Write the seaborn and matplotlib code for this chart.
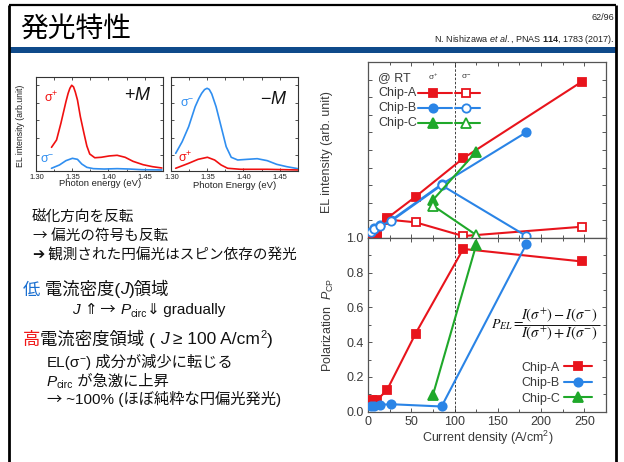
import matplotlib
matplotlib.use("Agg")
import matplotlib.pyplot as plt
import seaborn as sns
from matplotlib.ticker import MultipleLocator, FixedLocator, NullFormatter
from matplotlib.patches import Rectangle
from matplotlib.lines import Line2D

# ---------------- data ----------------
# EL spectra under +M (photon energy in eV, intensity in arb. unit)
pm_energy_sp = [1.321, 1.328, 1.334, 1.341, 1.344, 1.3465, 1.349, 1.3515, 1.354, 1.357,
                1.361, 1.366, 1.370, 1.374, 1.381, 1.390, 1.401, 1.412, 1.423, 1.434,
                1.448, 1.461, 1.474]
pm_el_sp = [0.252, 0.330, 0.507, 0.737, 0.825, 0.880, 0.912, 0.895, 0.840, 0.755,
            0.578, 0.401, 0.266, 0.181, 0.141, 0.146, 0.160, 0.167, 0.146, 0.103,
            0.067, 0.046, 0.032]
pm_energy_sm = [1.321, 1.332, 1.341, 1.350, 1.357, 1.363, 1.370, 1.379, 1.394,
                1.412, 1.429, 1.446, 1.474]
pm_el_sm = [0.029, 0.064, 0.110, 0.135, 0.124, 0.074, 0.039, 0.025, 0.021,
            0.025, 0.021, 0.014, 0.011]

# EL spectra under -M
mm_energy_sm = [1.306, 1.315, 1.324, 1.333, 1.338, 1.342, 1.346, 1.3495, 1.3525, 1.356,
                1.362, 1.369, 1.376, 1.383, 1.392, 1.405, 1.419, 1.433, 1.446, 1.460, 1.476]
mm_el_sm = [0.188, 0.312, 0.472, 0.684, 0.770, 0.826, 0.866, 0.880, 0.868, 0.820,
            0.684, 0.472, 0.259, 0.146, 0.117, 0.124, 0.131, 0.110, 0.071, 0.046, 0.024]
mm_energy_sp = [1.306, 1.324, 1.337, 1.350, 1.360, 1.369, 1.378, 1.396, 1.433, 1.476]
mm_el_sp = [0.029, 0.082, 0.124, 0.146, 0.117, 0.064, 0.029, 0.018, 0.018, 0.011]

# EL intensity (arb. unit) and polarization vs current density (A/cm^2)
density_a = [5, 10, 22, 55, 110, 247]
el_a_sigma_p = [0.010, 0.017, 0.112, 0.235, 0.453, 0.888]
el_a_sigma_m = [0.009, 0.015, 0.105, 0.089, 0.011, 0.064]
pol_a = [0.065, 0.065, 0.125, 0.450, 0.937, 0.865]

density_b = [3, 7, 14, 27, 85, 183]
el_b_sigma_p = [0.036, 0.055, 0.074, 0.102, 0.305, 0.601]
el_b_sigma_m = [0.034, 0.052, 0.070, 0.097, 0.300, 0.011]
pol_b = [0.030, 0.035, 0.040, 0.043, 0.030, 0.965]

density_c = [75, 125]
el_c_sigma_p = [0.216, 0.490]
el_c_sigma_m = [0.184, 0.017]
pol_c = [0.096, 0.960]

chips = ["Chip-A", "Chip-B", "Chip-C"]
x_ticks = [0, 50, 100, 150, 200, 250]
pol_ticks = [0.0, 0.2, 0.4, 0.6, 0.8, 1.0]
spec_ticks = [1.30, 1.35, 1.40, 1.45]

# ---------------- style ----------------
sns.set_style("ticks")
plt.rcParams["font.family"] = ["Liberation Sans", "Noto Sans CJK JP", "DejaVu Sans"]
plt.rcParams["mathtext.fontset"] = "custom"
plt.rcParams["mathtext.rm"] = "Liberation Sans"
plt.rcParams["mathtext.it"] = "Liberation Sans:italic"
plt.rcParams["mathtext.bf"] = "Liberation Sans:bold"
plt.rcParams["mathtext.sf"] = "Liberation Sans"

W, H = 624, 462
fig = plt.figure(figsize=(W / 100, H / 100), dpi=100)
fig.patch.set_facecolor("white")
renderer = fig.canvas.get_renderer()

FAM = ["Liberation Sans", "Noto Sans CJK JP", "DejaVu Sans"]
CJK = ["Noto Sans CJK JP", "DejaVu Sans"]
DJV = ["DejaVu Sans"]
RED = "#e8141c"
BLUE = "#2a84e6"
GREEN = "#1fa82a"
SPEC_RED = "#f01010"
SPEC_BLUE = "#2f8ef0"


def fx(x):
    return x / W


def fy(y):
    return 1 - y / H


def box(l, t, r, b):
    return [fx(l), fy(b), (r - l) / W, (b - t) / H]


# ---------------- slide frame ----------------
frame = fig.add_axes([0, 0, 1, 1], zorder=-5)
frame.set_xlim(0, W)
frame.set_ylim(H, 0)
frame.axis("off")
frame.plot([9, 9], [H + 5, 5], color="black", lw=2.0, solid_capstyle="butt")
frame.plot([9, 616], [5, 5], color="black", lw=1.6, solid_capstyle="butt")
frame.plot([616, 616], [5, H + 5], color="black", lw=2.0, solid_capstyle="butt")
frame.add_patch(Rectangle((9, 47), 607, 6, color="#0f4a8a", lw=0))

fig.text(fx(20), fy(29), "発光特性", fontsize=20, family=["Noto Sans CJK JP"],
         va="center", ha="left", color="black")
fig.text(fx(614), fy(17), "62/96", fontsize=6.5, ha="right", va="center", color="#222222")
fig.text(fx(614), fy(40), r"N. Nishizawa $\mathit{et\ al.}$, PNAS $\mathbf{114}$, 1783 (2017).",
         fontsize=6.5, ha="right", va="center", color="#222222")


# ---------------- EL spectra ----------------
def spectrum_axes(rect, curves, mlabel, mpos, sig_labels, xlabel, xlab_y):
    ax = fig.add_axes(rect)
    for e, v, c in curves:
        sns.lineplot(x=e, y=v, ax=ax, color=c, lw=1.2, estimator=None, sort=False)
    ax.set_xlim(1.2995, 1.476)
    ax.set_ylim(0, 1)
    ax.xaxis.set_major_locator(FixedLocator(spec_ticks))
    ax.set_xticklabels([f"{t:.2f}" for t in spec_ticks])
    ax.xaxis.set_minor_locator(MultipleLocator(0.025))
    ax.yaxis.set_major_locator(FixedLocator([0.17, 0.356, 0.542, 0.728, 0.914]))
    ax.yaxis.set_major_formatter(NullFormatter())
    ax.tick_params(which="both", direction="in", top=True, right=True,
                   length=2.2, width=0.6, color="#333333", labelsize=5.5, pad=2,
                   labelcolor="#222222")
    ax.tick_params(which="minor", length=1.8)
    for s in ax.spines.values():
        s.set_linewidth(0.8)
        s.set_color("#333333")
    ax.set_xlabel("")
    ax.set_ylabel("")
    fig.text(fx(mpos[0]), fy(mpos[1]), mlabel, fontsize=13, ha="center", va="center",
             color="#111111")
    for txt, (px, py), c in sig_labels:
        fig.text(fx(px), fy(py), txt, fontsize=9, color=c, ha="left", va="center")
    fig.text(fx((rect[0] + rect[2] / 2) * W), fy(xlab_y), xlabel, fontsize=6.8,
             ha="center", va="center", color="#222222")
    return ax


spectrum_axes(box(36, 77, 163.3, 171),
              [(pm_energy_sp, pm_el_sp, SPEC_RED), (pm_energy_sm, pm_el_sm, SPEC_BLUE)],
              r"$+\mathit{M}$", (138, 95),
              [(r"σ$^{+}$", (44, 98), SPEC_RED), (r"σ$^{-}$", (40, 160), SPEC_BLUE)],
              "Photon energy (eV)", 184)
spectrum_axes(box(171, 77, 298.3, 171),
              [(mm_energy_sm, mm_el_sm, SPEC_BLUE), (mm_energy_sp, mm_el_sp, SPEC_RED)],
              r"$-\mathit{M}$", (274, 99),
              [(r"σ$^{-}$", (180, 104), SPEC_BLUE), (r"σ$^{+}$", (178, 158), SPEC_RED)],
              "Photon Energy (eV)", 186)
fig.text(fx(21), fy(126), "EL intensity (arb.unit)", fontsize=6.3, rotation=90,
         ha="center", va="center", color="#222222")


# ---------------- rich text helper ----------------
def rich(x, y, parts):
    """Draw text runs left to right on one baseline; parts are
    (text, size, color, style, baseline shift in px[, font family list])."""
    for part in parts:
        txt, size, color, style, dy = part[:5]
        fam = part[5] if len(part) > 5 else FAM
        t = fig.text(fx(x), fy(y + dy), txt, fontsize=size, color=color,
                     fontstyle=style, family=fam, ha="left", va="baseline")
        x += t.get_window_extent(renderer).width


BK = "#111111"
LOW = "#1a6fd0"
HIGH = "#f01818"
rich(32, 221.5, [("磁化方向を反転", 10.5, BK, "normal", 0)])
rich(32, 240, [("→", 10.5, BK, "normal", 0, CJK), (" 偏光の符号も反転", 10.5, BK, "normal", 0)])
rich(32, 259.5, [("➔", 10.5, BK, "normal", 0), (" 観測された円偏光はスピン依存の発光", 10.5, BK, "normal", 0)])
rich(22.5, 294.5, [("低", 12.5, LOW, "normal", 0), (" 電流密度(", 12.5, BK, "normal", 0),
                   ("J", 12.5, BK, "italic", 0), (")領域", 12.5, BK, "normal", 0)])
rich(72, 314, [("J", 11, BK, "italic", 0), (" ⇑", 11, BK, "normal", 0, DJV),
               (" →", 11, BK, "normal", 0, CJK), (" ", 11, BK, "normal", 0),
               ("P", 11, BK, "italic", 0), ("circ", 7.5, BK, "normal", 3),
               ("⇓", 11, BK, "normal", 0, DJV), (" gradually", 11, BK, "normal", 0)])
rich(22.5, 344.5, [("高", 12.5, HIGH, "normal", 0), ("電流密度領域 ( ", 12.5, BK, "normal", 0),
                   ("J", 12.5, BK, "italic", 0), (" ≥ 100 A/cm", 12.5, BK, "normal", 0),
                   ("2", 8, BK, "normal", -6), (")", 12.5, BK, "normal", 0)])
rich(46.5, 367, [("EL(σ", 11, BK, "normal", 0), ("−", 7.5, BK, "normal", -5),
                 (") 成分が減少に転じる", 11, BK, "normal", 0)])
rich(46.5, 385.5, [("P", 11, BK, "italic", 0), ("circ", 7.5, BK, "normal", 3),
                   (" が急激に上昇", 11, BK, "normal", 0)])
rich(46.5, 404, [("→", 11, BK, "normal", 0, CJK), (" ~100% (ほぼ純粋な円偏光発光)", 11, BK, "normal", 0)])


# ---------------- EL intensity / polarization panels ----------------
ax_el = fig.add_axes(box(368, 62, 606, 238))
ax_pol = fig.add_axes(box(368, 238, 606, 411.7))


def series(ax, x, y, color, marker, ms, filled, z):
    sns.lineplot(x=x, y=y, ax=ax, color=color, lw=1.5, marker=marker, markersize=ms,
                 markerfacecolor=color if filled else "white", markeredgecolor=color,
                 markeredgewidth=1.3, estimator=None, sort=False, zorder=z)


# sigma+ (filled) and sigma- (open)
series(ax_el, density_a, el_a_sigma_m, RED, "s", 5.5, False, 3)
series(ax_el, density_a, el_a_sigma_p, RED, "s", 5.5, True, 4)
series(ax_el, density_b, el_b_sigma_p, BLUE, "o", 6, True, 3)
series(ax_el, density_b, el_b_sigma_m, BLUE, "o", 6, False, 4)
series(ax_el, density_c, el_c_sigma_p, GREEN, "^", 6.5, True, 5)
series(ax_el, density_c, el_c_sigma_m, GREEN, "^", 6.5, False, 5)

series(ax_pol, density_a, pol_a, RED, "s", 5.5, True, 3)
series(ax_pol, density_b, pol_b, BLUE, "o", 6, True, 3)
series(ax_pol, density_c, pol_c, GREEN, "^", 6.5, True, 4)

for ax in (ax_el, ax_pol):
    ax.axvline(100, color="#222222", lw=0.6, ls=(0, (3, 2)), zorder=1)
    ax.set_xlim(0, 275)
    ax.xaxis.set_major_locator(FixedLocator(x_ticks))
    ax.xaxis.set_minor_locator(MultipleLocator(25))
    ax.tick_params(which="both", direction="in", top=True, right=True, width=0.7,
                   color="#555555", labelsize=9, labelcolor="#3a3a3a", pad=3)
    ax.tick_params(which="major", length=3)
    ax.tick_params(which="minor", length=2)
    for s in ax.spines.values():
        s.set_linewidth(0.9)
        s.set_color("#555555")
    ax.set_xlabel("")
    ax.set_ylabel("")

ax_el.set_ylim(0, 1)
ax_el.yaxis.set_major_locator(MultipleLocator(0.1))
ax_el.yaxis.set_major_formatter(NullFormatter())
ax_el.xaxis.set_major_formatter(NullFormatter())

ax_pol.set_ylim(0, 1.0)
ax_pol.yaxis.set_major_locator(FixedLocator(pol_ticks))
ax_pol.set_yticklabels([f"{t:.1f}" for t in pol_ticks])
ax_pol.yaxis.set_minor_locator(MultipleLocator(0.1))
ax_pol.set_xticklabels([str(t) for t in x_ticks])

fig.text(fx(327), fy(152), "EL intensity (arb. unit)", rotation=90, fontsize=9,
         ha="center", va="center", color="#3a3a3a")
fig.text(fx(328), fy(325), r"Polarization  $\mathit{P}_{\mathrm{CP}}$", rotation=90,
         fontsize=9, ha="center", va="center", color="#3a3a3a")
fig.text(fx(487.5), fy(438), r"Current density (A/cm$^{2}$)", fontsize=9,
         ha="center", va="center", color="#3a3a3a")

# legend of the EL panel: sigma+ (filled) and sigma- (open) per chip
T = ax_el.transAxes
ax_el.text(0.042, 0.909, "@ RT", transform=T, fontsize=9, va="center", ha="left", color="#3a3a3a")
ax_el.text(0.274, 0.915, r"σ$^{+}$", transform=T, fontsize=6, va="center", ha="center", color="#3a3a3a")
ax_el.text(0.412, 0.915, r"σ$^{-}$", transform=T, fontsize=6, va="center", ha="center", color="#3a3a3a")
for name, c, m, ms, yy in zip(chips, [RED, BLUE, GREEN], ["s", "o", "^"], [5.5, 6, 6.5],
                              [0.826, 0.740, 0.652]):
    ax_el.text(0.042, yy, name, transform=T, fontsize=9, va="center", ha="left", color="#3a3a3a")
    for (x0, x1), xm, filled in [((0.211, 0.352), 0.274, True), ((0.366, 0.471), 0.412, False)]:
        ax_el.add_line(Line2D([x0, x1], [yy, yy], transform=T, color=c, lw=1.5, zorder=6))
        ax_el.add_line(Line2D([xm], [yy], transform=T, color=c, marker=m, markersize=ms,
                              markerfacecolor=c if filled else "white", markeredgecolor=c,
                              markeredgewidth=1.3, zorder=7))

# legend of the polarization panel
handles = [Line2D([], [], color=c, lw=1.5, marker=m, markersize=ms, markeredgewidth=1.3)
           for c, m, ms in zip([RED, BLUE, GREEN], ["s", "o", "^"], [5.5, 6, 6.5])]
leg = ax_pol.legend(handles, chips, loc="lower right", bbox_to_anchor=(0.943, 0.04),
                    frameon=False, markerfirst=False, fontsize=9, handlelength=2.3,
                    handletextpad=0.3, labelspacing=0.28, borderpad=0, borderaxespad=0)
for t in leg.get_texts():
    t.set_color("#3a3a3a")

# definition of the EL polarization, set as a stacked fraction
FORM = "#111111"
fig.text(fx(491), fy(325), r"$P_{EL} =$", math_fontfamily="stix", fontsize=10,
         ha="left", va="center", color=FORM)
fig.text(fx(559), fy(319.5), r"$I(\sigma^{+}) - I(\sigma^{-})$", math_fontfamily="stix",
         fontsize=10.5, ha="center", va="baseline", color=FORM)
fig.text(fx(559), fy(337), r"$I(\sigma^{+}) + I(\sigma^{-})$", math_fontfamily="stix",
         fontsize=10.5, ha="center", va="baseline", color=FORM)
fig.add_artist(Line2D([fx(518), fx(600)], [fy(324.5), fy(324.5)], transform=fig.transFigure,
                      color=FORM, lw=0.7, solid_capstyle="butt", zorder=5))

fig.savefig("out.png", dpi=100, facecolor="white")
